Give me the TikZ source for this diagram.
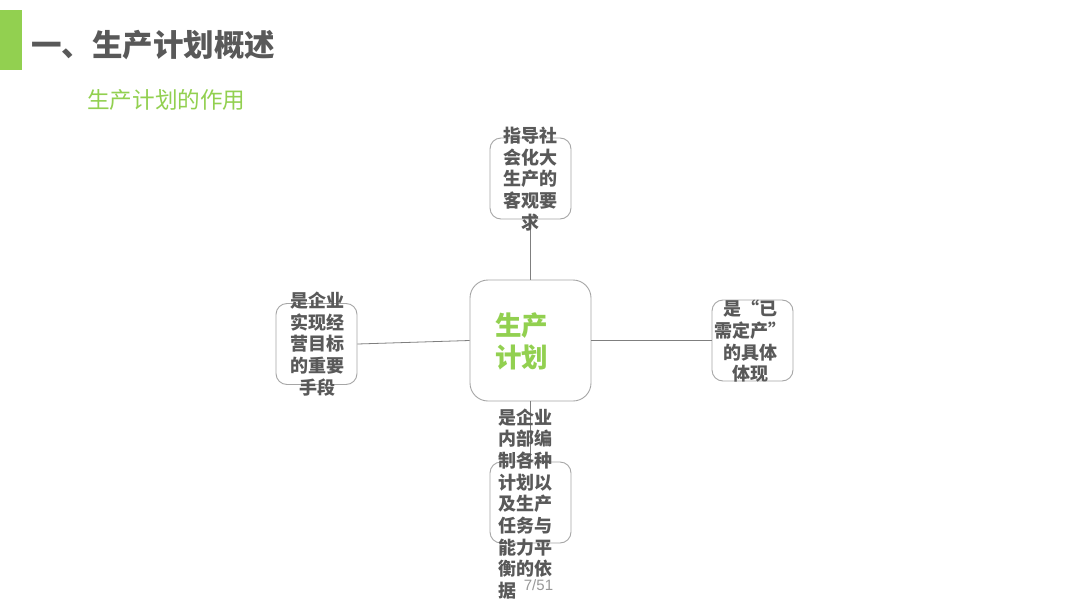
\documentclass[tikz,border=0pt]{standalone}
\usepackage{fontspec}
\setmainfont{Liberation Sans}
\newfontfamily\cjk{Noto Sans CJK SC}
\definecolor{leaf}{HTML}{92D050}
\definecolor{ink}{HTML}{595959}
\definecolor{rim}{HTML}{A6A6A6}
\definecolor{wire}{HTML}{7F7F7F}
\tikzset{
  smallbox/.style={draw=rim, line width=0.9pt, rounded corners=11pt, minimum width=81pt, minimum height=81pt, inner sep=0pt},
  bigbox/.style={draw=rim, line width=0.9pt, rounded corners=18pt, minimum width=121pt, minimum height=121pt, inner sep=0pt},
  boxtext/.style={font=\cjk\bfseries\fontsize{18}{21.7}\selectfont, text=ink, inner sep=0pt, align=center},
  link/.style={draw=wire, line width=0.8pt}
}
\begin{document}
\begin{tikzpicture}[x=1pt,y=-1pt]
\useasboundingbox[fill=white] (0,0) rectangle (1080,608);
% header
\fill[leaf] (0,10) rectangle (22,70);
\node[anchor=west, inner sep=0pt, text=ink, font=\cjk\bfseries\fontsize{30.5}{34}\selectfont] (title) at (31,45) {一、生产计划概述};
\node[anchor=west, inner sep=0pt, text=leaf, font=\cjk\fontsize{22.6}{26}\selectfont] (sub) at (87,100) {生产计划的作用};
% boxes
\node[bigbox] (c) at (530.5,340.5) {};
\node[smallbox] (t) at (530.5,178.5) {};
\node[smallbox] (l) at (316.5,344) {};
\node[smallbox] (r) at (752.5,340.5) {};
\node[smallbox] (b) at (530.5,502.5) {};
% connectors
\draw[link] (t.south) -- (c.north);
\draw[link] (c.south) -- (b.north);
\draw[link] (l.east) -- (c.west);
\draw[link] (c.east) -- (r.west);
% texts
\node[inner sep=0pt, align=left, text=leaf, font=\cjk\bfseries\fontsize{26.5}{32}\selectfont] (ct) at (521.5,341) {生产\\计划};
\node[boxtext] (tt) at (530,179) {指导社\\会化大\\生产的\\客观要\\求};
\node[boxtext] (lt) at (317,344) {是企业\\实现经\\营目标\\的重要\\手段};
\node[boxtext] (rt) at (750,341.5) {是“已\\需定产”\\的具体\\体现};
\node[boxtext, align=left, anchor=west] (bt) at (498,504) {是企业\\内部编\\制各种\\计划以\\及生产\\任务与\\能力平\\衡的依\\据};
\node[inner sep=0pt, text=wire!80, font=\fontsize{15}{17}\selectfont] (pg) at (538.5,585) {7/51};
\end{tikzpicture}
\end{document}
